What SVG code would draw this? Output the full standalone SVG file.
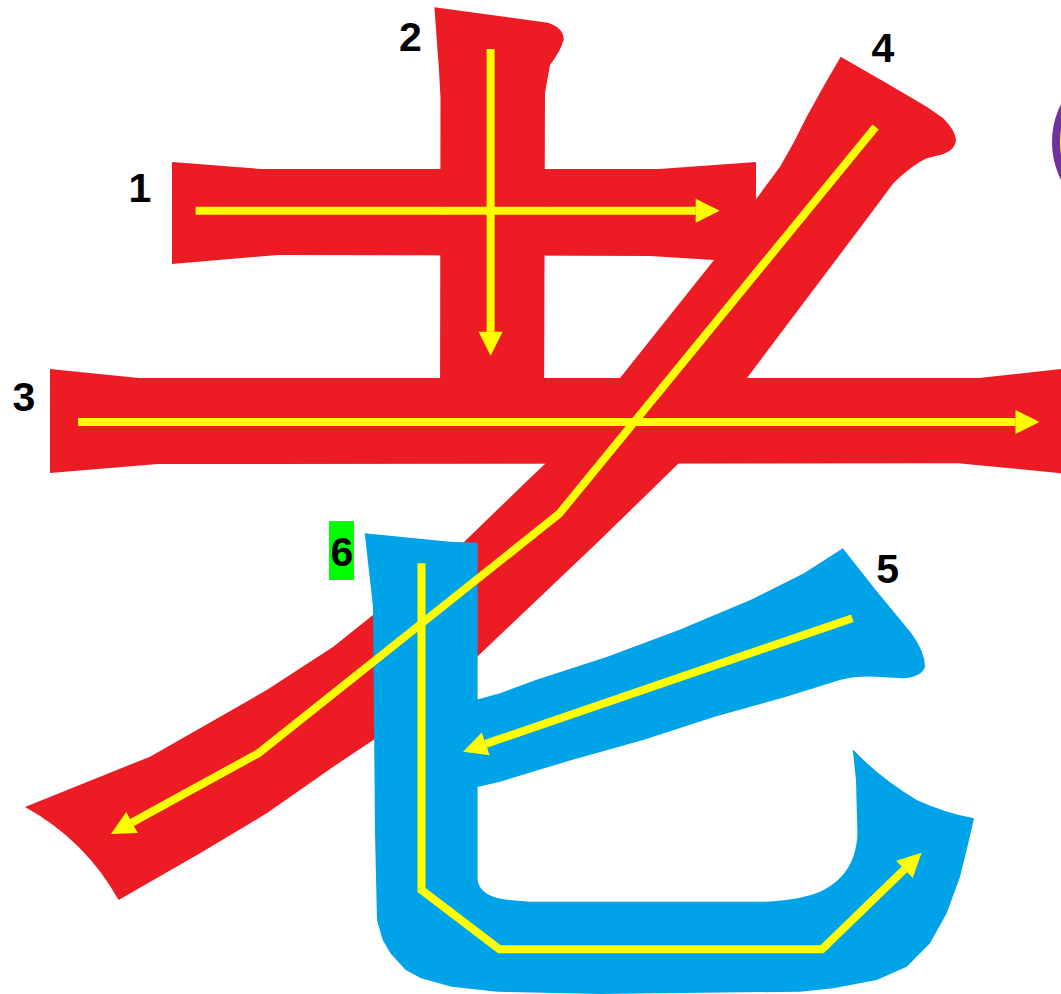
<svg xmlns="http://www.w3.org/2000/svg" width="1061" height="994" viewBox="0 0 1061 994">
<defs>
<style>
.red{fill:#ED1C24}
.blue{fill:#00A2E8}
.arr{fill:none;stroke:#FFFF00;stroke-width:8;stroke-linejoin:miter;marker-end:url(#ah)}
.num{font-family:"Liberation Sans",Arial,sans-serif;font-weight:bold;font-size:41px;fill:#000;text-anchor:middle}
</style>
<marker id="ah" markerUnits="userSpaceOnUse" markerWidth="24" markerHeight="24" refX="0" refY="12" orient="auto" overflow="visible">
<path d="M0,0 L24,12 L0,24 Z" fill="#FFFF00"/>
</marker>
</defs>
<rect width="1061" height="994" fill="#FFFFFF"/>
<g id="badge">
<circle cx="1136" cy="142" r="80" fill="#FFFF00" stroke="#7030A0" stroke-width="8"/>
</g>
<g id="stroke1">
<path class="red" d="M172,162 L261,169 L659,169 L756,162 L756,230 L714,260 L650,256 L278,255 L172,264 Z"/>
</g>
<g id="stroke2">
<path class="red" d="M434.4,7.3 L548,22.7 Q564,28 563.7,40 Q560,52 550,65 L545,93 L544,420 L440,420 L440.5,98 L439,70 Z"/>
</g>
<g id="stroke3">
<path class="red" d="M50,369 L139,378 L979,378 L1070,368 L1070,474 L958,463.3 L158,464 L50,473 Z"/>
</g>
<g id="stroke4">
<path class="red" d="M840.7,56.7 L886.7,83.3 L926.7,106.7 L943.3,118.3 Q955,130 956,140 Q955,151 940,155 L926.7,158.3 Q912,165 893.3,183.3 L872,212 L747,378 L679,463 L600,540 L500,635 L478,656 L373.3,740 L333.3,766.7 L266.7,813.3 L200,853.3 L118.6,900 Q85,840 25,807 L100,776.7 L150,756.7 L200,728.3 L266.7,690 L333.3,646.7 L373,615 L463,543 L528,480 L545,464 L620,378 L714,260 L756.7,198.3 L780,166.7 L793.3,143.3 L806.7,116.7 L823.3,86.7 Z"/>
</g>
<g id="stroke5">
<path class="blue" d="M842.8,548.3 L875.7,590 L911.4,633.3 Q925,652 925,666.7 Q922,677 902.5,678.3 L875.7,676.7 Q855,676 839.9,680 L786.2,696.7 L714.7,716.7 L643.1,740 L571.6,760 L500,781.7 L478.4,786.7 L460,790 L460,700 L478.4,699.3 L500,693.3 L535.8,680 L607.3,656.7 L678.9,630 L750.4,600 L804,573.3 Z"/>
</g>
<g id="stroke6">
<path class="blue" d="M364.7,533.3 L449.7,541.7 L477.6,542.7 L477.6,880 Q480,897 509,900 L530,901.7 L764.8,901.7 Q800,900 820,891.7 Q845,880 853.3,856.7 Q858,842 857.3,830 L856,780 L852.7,749.3 Q880,778 916.7,800 Q945,813 974,818.3 L968.3,843.3 L960,876.7 L946.7,913.3 L930,943.3 L906.7,966.7 L876.7,980 L833.3,988.3 L800,991.7 L600,994 L497.5,991.7 L451.6,986.7 L421,978.3 L405.7,970 L390.4,953.3 L382.7,940 L377,920 L375,833 L373,606.7 Z"/>
</g>
<g id="arrows">
<path class="arr" d="M195.6,210.7 L695.7,210.7"/>
<path class="arr" d="M490.6,49 L490.6,331.7"/>
<path class="arr" d="M78,422 L1015.5,422"/>
<path class="arr" d="M875.6,127 L559,514 L258.3,753.3 L132,822.5"/>
<path class="arr" d="M852.4,618.3 L485.7,743.9"/>
<path class="arr" d="M421.5,563.3 L421.5,890 L499.4,949.3 L822,949.3 L904.4,869.4"/>
</g>
<g id="labels">
<text class="num" x="140" y="202">1</text>
<text class="num" x="410.5" y="50.7">2</text>
<text class="num" x="24" y="410.7">3</text>
<text class="num" x="883" y="62.3">4</text>
<text class="num" x="887.7" y="582.7">5</text>
<rect x="329" y="521" width="25" height="59" fill="#00FF00"/>
<text class="num" x="342" y="566">6</text>
</g>
</svg>
